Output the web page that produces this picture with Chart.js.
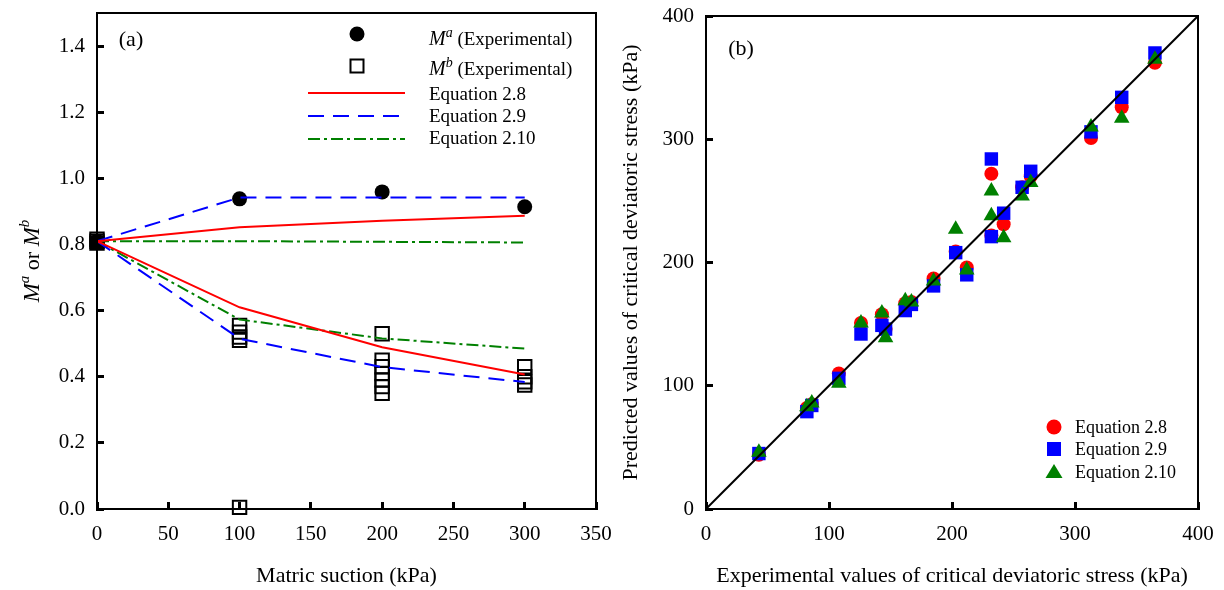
<!DOCTYPE html>
<html lang="en">
<head>
<meta charset="UTF-8">
<title>Critical state parameters</title>
<script src="https://cdn.jsdelivr.net/npm/chart.js@4.4.0/dist/chart.umd.min.js"></script>
<style>
    body { margin: 0; background: #fff; }
    .figure { position: relative; width: 1224px; height: 590px; }
    #chartA { position: absolute; left: 0; top: 0; }
    #chartB { position: absolute; left: 610px; top: 0; }
</style>
</head>
<body>
<div class="figure">
    <canvas id="chartA" width="640" height="590"></canvas>
    <canvas id="chartB" width="614" height="590"></canvas>
</div>
<script>
// (a) slopes Ma / Mb against matric suction
const suction = [0, 100, 200, 300];
const maExp = [0.81, 0.938, 0.959, 0.914];
const mbSuction = [0, 0, 0, 100, 100, 100, 100, 100, 200, 200, 200, 200, 200, 200, 200, 300, 300, 300, 300];
const mbExp = [0.816, 0.81, 0.804, 0.555, 0.535, 0.52, 0.51, 0.005, 0.53, 0.45, 0.43, 0.41, 0.39, 0.37, 0.35, 0.43, 0.40, 0.385, 0.375];
const eq28Ma = [0.81, 0.852, 0.872, 0.887];
const eq28Mb = [0.81, 0.61, 0.489, 0.407];
const eq29Ma = [0.81, 0.942, 0.942, 0.942];
const eq29Mb = [0.81, 0.515, 0.429, 0.384];
const eq210Ma = [0.81, 0.81, 0.808, 0.806];
const eq210Mb = [0.81, 0.573, 0.516, 0.485];

// (b) predicted vs experimental critical deviatoric stress (kPa)
const expStress = [43, 82, 86, 108, 126, 143, 146, 162, 167, 185, 203, 212, 232, 232, 242, 257, 264, 313, 338, 365];
const predEq28 = [44, 82, 85, 110, 151, 158, 146, 167, 168, 187, 209, 196, 272, 222, 231, 261, 270, 301, 326, 362];
const predEq29 = [45, 79, 84, 106, 142, 149, 146, 161, 166, 181, 208, 190, 284, 221, 240, 261, 274, 306, 334, 370];
const predEq210 = [46, 83, 86, 102, 151, 159, 139, 169, 168, 185, 227, 194, 258, 238, 220, 254, 265, 310, 317, 365];
const oneToOne = [0, 400];

const SERIF = "'Liberation Serif', 'Times New Roman', serif";
const RED = '#ff0000';
const BLUE = '#0000ff';
const GREEN = '#008000';
const DASH = [16, 9];
const DASH_DOT = [12, 4, 3, 4];

Chart.defaults.font.family = SERIF;
Chart.defaults.color = '#000';

function pts(xs, ys) {
    return xs.map((x, i) => ({ x: x, y: ys[i] }));
}

function lineSet(label, ys, color, dash) {
    return {
        label: label,
        data: pts(suction, ys),
        showLine: true,
        borderColor: color,
        borderWidth: 2,
        borderDash: dash,
        pointRadius: 0,
        clip: false
    };
}

function scales(o) {
    return {
        x: {
            type: 'linear', min: o.xMin, max: o.xMax,
            ticks: { stepSize: o.xStep, padding: 20, font: { size: 21 }, includeBounds: false },
            grid: { drawOnChartArea: false, tickLength: -7, tickWidth: 3, tickColor: '#000' },
            border: { color: '#000', width: 2 },
            title: { display: true, text: o.xTitle, font: { size: 22 }, padding: { top: 0, bottom: 1 } },
            afterFit: s => { s.height = 81; s.paddingLeft = 0; s.paddingRight = 0; }
        },
        y: {
            type: 'linear', min: o.yMin, max: o.yMax,
            ticks: { stepSize: o.yStep, padding: 19, font: { size: 21 }, includeBounds: false, callback: o.yFmt },
            grid: { drawOnChartArea: false, tickLength: -7, tickWidth: 3, tickColor: '#000' },
            border: { color: '#000', width: 2 },
            title: { display: !!o.yTitle, text: o.yTitle, font: { size: 22 }, padding: { top: 8, bottom: 0 } },
            afterFit: s => { s.width = o.yWidth; s.paddingTop = 0; s.paddingBottom = 0; }
        }
    };
}

// text runs with italic / superscript parts
function drawParts(ctx, parts, x, y) {
    let cx = x;
    parts.forEach(p => {
        ctx.font = p.font;
        ctx.fillText(p.text, cx, y + (p.dy || 0));
        cx += ctx.measureText(p.text).width;
    });
}

function partsWidth(ctx, parts) {
    return parts.reduce((w, p) => { ctx.font = p.font; return w + ctx.measureText(p.text).width; }, 0);
}

function strokeFrame(chart) {
    const ctx = chart.ctx;
    const a = chart.chartArea;
    ctx.save();
    ctx.strokeStyle = '#000';
    ctx.lineWidth = 2;
    ctx.strokeRect(a.left, a.top, a.right - a.left, a.bottom - a.top);
    ctx.restore();
}

function panelLabel(ctx, text, x, y) {
    ctx.save();
    ctx.fillStyle = '#000';
    ctx.font = '22px ' + SERIF;
    ctx.textAlign = 'center';
    ctx.textBaseline = 'middle';
    ctx.fillText(text, x, y);
    ctx.restore();
}

const decorA = {
    id: 'decorA',
    afterDraw(chart) {
        const ctx = chart.ctx;
        strokeFrame(chart);
        panelLabel(ctx, '(a)', 131, 40);

        ctx.save();
        ctx.fillStyle = '#000';
        ctx.textAlign = 'left';
        ctx.textBaseline = 'alphabetic';

        // y axis title: Ma or Mb
        const yTitle = [
            { text: 'M', font: 'italic 23px ' + SERIF },
            { text: 'a', font: 'italic 15px ' + SERIF, dy: -10 },
            { text: ' or ', font: '22px ' + SERIF },
            { text: 'M', font: 'italic 23px ' + SERIF },
            { text: 'b', font: 'italic 15px ' + SERIF, dy: -10 }
        ];
        ctx.save();
        ctx.translate(39, 261);
        ctx.rotate(-Math.PI / 2);
        drawParts(ctx, yTitle, -partsWidth(ctx, yTitle) / 2, 0);
        ctx.restore();

        // legend markers
        ctx.beginPath();
        ctx.arc(357, 34, 7.5, 0, Math.PI * 2);
        ctx.fill();
        ctx.lineWidth = 2;
        ctx.strokeStyle = '#000';
        ctx.strokeRect(350.5, 59.5, 13, 13);

        const rows = [
            { color: RED, dash: [], y: 93 },
            { color: BLUE, dash: DASH, y: 116 },
            { color: GREEN, dash: DASH_DOT, y: 139 }
        ];
        rows.forEach(r => {
            ctx.beginPath();
            ctx.strokeStyle = r.color;
            ctx.setLineDash(r.dash);
            ctx.moveTo(308, r.y);
            ctx.lineTo(405, r.y);
            ctx.stroke();
        });
        ctx.setLineDash([]);

        drawParts(ctx, [
            { text: 'M', font: 'italic 20px ' + SERIF },
            { text: 'a', font: 'italic 14px ' + SERIF, dy: -8 },
            { text: ' (Experimental)', font: '19px ' + SERIF }
        ], 429, 45);
        drawParts(ctx, [
            { text: 'M', font: 'italic 20px ' + SERIF },
            { text: 'b', font: 'italic 14px ' + SERIF, dy: -8 },
            { text: ' (Experimental)', font: '19px ' + SERIF }
        ], 429, 75);
        ctx.font = '19px ' + SERIF;
        ctx.fillText('Equation 2.8', 429, 100);
        ctx.fillText('Equation 2.9', 429, 122);
        ctx.fillText('Equation 2.10', 429, 144);
        ctx.restore();
    }
};

const decorB = {
    id: 'decorB',
    afterDraw(chart) {
        const ctx = chart.ctx;
        strokeFrame(chart);
        panelLabel(ctx, '(b)', 131, 49);

        ctx.save();
        const mx = 444;
        ctx.fillStyle = RED;
        ctx.beginPath();
        ctx.arc(mx, 427, 7.5, 0, Math.PI * 2);
        ctx.fill();
        ctx.fillStyle = BLUE;
        ctx.fillRect(mx - 7, 442, 14, 14);
        ctx.fillStyle = GREEN;
        ctx.beginPath();
        ctx.moveTo(mx, 464);
        ctx.lineTo(mx + 8.5, 478);
        ctx.lineTo(mx - 8.5, 478);
        ctx.closePath();
        ctx.fill();

        ctx.fillStyle = '#000';
        ctx.font = '18px ' + SERIF;
        ctx.textAlign = 'left';
        ctx.textBaseline = 'alphabetic';
        ctx.fillText('Equation 2.8', 465, 433);
        ctx.fillText('Equation 2.9', 465, 455);
        ctx.fillText('Equation 2.10', 465, 478);
        ctx.restore();
    }
};

new Chart(document.getElementById('chartA'), {
    type: 'scatter',
    data: {
        datasets: [
            lineSet('Equation 2.8', eq28Ma, RED, []),
            lineSet('Equation 2.8', eq28Mb, RED, []),
            lineSet('Equation 2.9', eq29Ma, BLUE, DASH),
            lineSet('Equation 2.9', eq29Mb, BLUE, DASH),
            lineSet('Equation 2.10', eq210Ma, GREEN, DASH_DOT),
            lineSet('Equation 2.10', eq210Mb, GREEN, DASH_DOT),
            {
                label: 'Ma (Experimental)',
                data: pts(suction, maExp),
                pointStyle: 'circle',
                pointRadius: 7.5,
                backgroundColor: '#000',
                borderColor: '#000',
                borderWidth: 0,
                clip: false
            },
            {
                label: 'Mb (Experimental)',
                data: pts(mbSuction, mbExp),
                pointStyle: 'rect',
                pointRadius: 9.5,
                backgroundColor: 'rgba(0,0,0,0)',
                borderColor: '#000',
                borderWidth: 2,
                clip: false
            }
        ]
    },
    options: {
        responsive: false,
        devicePixelRatio: 1,
        animation: false,
        events: [],
        layout: { padding: { top: 13, right: 44, bottom: 0, left: 0 } },
        plugins: { legend: { display: false }, tooltip: { enabled: false } },
        scales: scales({
            xMin: 0, xMax: 350, xStep: 50, xTitle: 'Matric suction (kPa)',
            yMin: 0, yMax: 1.5, yStep: 0.2, yWidth: 97,
            yFmt: v => v.toFixed(1)
        })
    },
    plugins: [decorA]
});

new Chart(document.getElementById('chartB'), {
    type: 'scatter',
    data: {
        datasets: [
            {
                label: '1:1',
                data: pts(oneToOne, oneToOne),
                showLine: true,
                borderColor: '#000',
                borderWidth: 2,
                pointRadius: 0
            },
            {
                label: 'Equation 2.10',
                data: pts(expStress, predEq210),
                pointStyle: 'triangle',
                pointRadius: 9,
                backgroundColor: GREEN,
                borderWidth: 0
            },
            {
                label: 'Equation 2.9',
                data: pts(expStress, predEq29),
                pointStyle: 'rect',
                pointRadius: 9.5,
                backgroundColor: BLUE,
                borderWidth: 0
            },
            {
                label: 'Equation 2.8',
                data: pts(expStress, predEq28),
                pointStyle: 'circle',
                pointRadius: 7,
                backgroundColor: RED,
                borderWidth: 0
            }
        ]
    },
    options: {
        responsive: false,
        devicePixelRatio: 1,
        animation: false,
        events: [],
        layout: { padding: { top: 16, right: 26, bottom: 0, left: 0 } },
        plugins: { legend: { display: false }, tooltip: { enabled: false } },
        scales: scales({
            xMin: 0, xMax: 400, xStep: 100, xTitle: 'Experimental values of critical deviatoric stress (kPa)',
            yMin: 0, yMax: 400, yStep: 100, yWidth: 96,
            yTitle: 'Predicted values of critical deviatoric stress (kPa)'
        })
    },
    plugins: [decorB]
});
</script>
</body>
</html>
